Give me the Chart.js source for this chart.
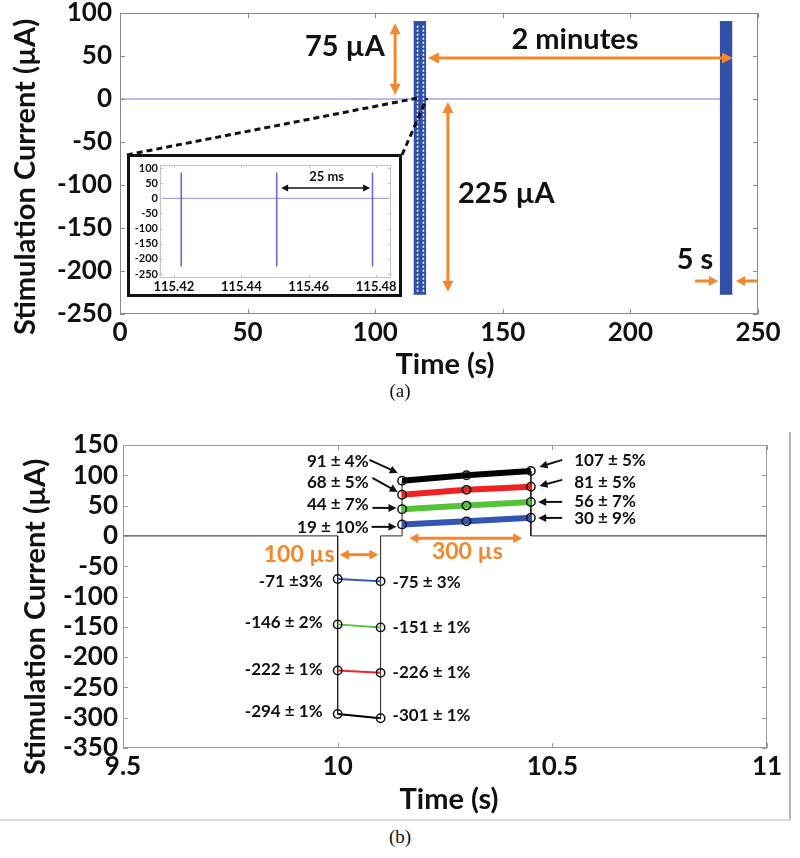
<!DOCTYPE html>
<html><head><meta charset="utf-8">
<script src="https://cdn.jsdelivr.net/npm/chart.js@4.4.1/dist/chart.umd.min.js"></script>
<style>
html,body{margin:0;padding:0;background:#fff;}
body{width:800px;height:858px;position:relative;overflow:hidden;}
.abs{position:absolute;}
.cap{position:absolute;left:0;width:800px;text-align:center;font-family:'Liberation Serif','DejaVu Serif',serif;font-size:19px;color:#111;line-height:20px;}
</style></head><body>
<canvas id="chartA" class="abs" width="800" height="405" style="left:0;top:-20px"></canvas>
<div class="abs" style="left:127px;top:154px;width:269px;height:137px;border:3px solid #111;background:#fff;">
  <canvas id="chartInset" width="269" height="137"></canvas>
</div>
<div class="cap" style="top:381px">(a)</div>
<div class="abs" style="left:789px;top:432px;width:2px;height:389px;background:#b8b8b8"></div>
<div class="abs" style="left:0;top:819px;width:791px;height:2px;background:#d8d8d8"></div>
<canvas id="chartB" class="abs" width="800" height="400" style="left:0;top:425px"></canvas>
<div class="cap" style="top:827px">(b)</div>
<script>
// ---------- Panel (a): 5 s bursts every 2 minutes ----------
const burstStarts = [115, 235];          // s
const burstEnds = [120, 240];            // s
const burstPeak = 90;                    // µA
const burstTrough = -227;                // µA
const baselineTimes = [0, 240];          // s
// ---------- Inset: individual pulses ----------
const insetPulseTimes = [115.4222, 115.4505, 115.4789]; // s
const insetPulsePeak = 85;
const insetPulseTrough = -225;
const insetTimeRange = [115.4159, 115.4844];
const insetCurrentRange = [-263, 110];
// ---------- Panel (b): four amplitude settings ----------
const negPhaseTimes = [10.0, 10.1];
const posPhaseTimes = [10.15, 10.3, 10.45];
const negBlue = [-71, -75], negGreen = [-146, -151], negRed = [-222, -226], negBlack = [-294, -301];
const posBlue = [19, 24, 30], posGreen = [44, 50, 56], posRed = [68, 76, 81], posBlack = [91, 100, 107];
const negStartLabels = ['-71 ±3%', '-146 ± 2%', '-222 ± 1%', '-294 ± 1%'];
const negEndLabels = ['-75 ± 3%', '-151 ± 1%', '-226 ± 1%', '-301 ± 1%'];
const posStartLabels = ['19 ± 10%', '44 ± 7%', '68 ± 5%', '91 ± 4%'];
const posEndLabels = ['30 ± 9%', '56 ± 7%', '81 ± 5%', '107 ± 5%'];
const timeRangeB = [9.5, 11];

const ORANGE = '#f4862b';
const BLUE_A = '#3151a9';
const LAV = '#a4a4e4';
const COLS = {blue:'#3356b5', green:'#55c23a', red:'#ee2222', black:'#000000'};

function arrow(ctx, x1, y1, x2, y2, o) {
  const hl = o.hl, hw = o.hw, ang = Math.atan2(y2 - y1, x2 - x1);
  ctx.strokeStyle = o.color; ctx.fillStyle = o.color; ctx.lineWidth = o.width; ctx.setLineDash([]);
  let sx = x1, sy = y1, ex = x2, ey = y2;
  if (o.start) { sx += Math.cos(ang) * hl * 0.8; sy += Math.sin(ang) * hl * 0.8; }
  if (o.end) { ex -= Math.cos(ang) * hl * 0.8; ey -= Math.sin(ang) * hl * 0.8; }
  ctx.beginPath(); ctx.moveTo(sx, sy); ctx.lineTo(ex, ey); ctx.stroke();
  const head = (px, py, a) => {
    ctx.beginPath(); ctx.moveTo(px, py);
    ctx.lineTo(px - hl * Math.cos(a) + hw * Math.sin(a), py - hl * Math.sin(a) - hw * Math.cos(a));
    ctx.lineTo(px - hl * Math.cos(a) - hw * Math.sin(a), py - hl * Math.sin(a) + hw * Math.cos(a));
    ctx.closePath(); ctx.fill();
  };
  if (o.end) head(x2, y2, ang);
  if (o.start) head(x1, y1, ang + Math.PI);
}

function makeDeco(spec) {
  return {
    id: 'deco',
    afterDatasetsDraw(chart) {
      const ctx = chart.ctx, a = chart.chartArea, xs = chart.scales.x, ys = chart.scales.y;
      const X = v => xs.getPixelForValue(v), Y = v => ys.getPixelForValue(v);
      ctx.save();
      (spec.lines || []).forEach(l => {
        ctx.beginPath(); ctx.setLineDash(l.dash || []); ctx.strokeStyle = l.color; ctx.lineWidth = l.width;
        ctx.moveTo(X(l.x1), Y(l.y1)); ctx.lineTo(X(l.x2), Y(l.y2)); ctx.stroke();
      });
      ctx.setLineDash([]);
      ctx.strokeStyle = spec.boxColor; ctx.lineWidth = 1;
      ctx.strokeRect(Math.round(a.left) + 0.5, Math.round(a.top) + 0.5, Math.round(a.width) - 1, Math.round(a.height) - 1);
      const tl = spec.tickLen;
      ctx.beginPath();
      xs.ticks.forEach(t => { const p = Math.round(X(t.value)) + 0.5; ctx.moveTo(p, a.bottom); ctx.lineTo(p, a.bottom - tl); ctx.moveTo(p, a.top); ctx.lineTo(p, a.top + tl); });
      ys.ticks.forEach(t => { const p = Math.round(Y(t.value)) + 0.5; ctx.moveTo(a.left, p); ctx.lineTo(a.left + tl, p); ctx.moveTo(a.right, p); ctx.lineTo(a.right - tl, p); });
      ctx.stroke();
      (spec.arrows || []).forEach(r => arrow(ctx, X(r.x1), Y(r.y1), X(r.x2), Y(r.y2), r));
      (spec.texts || []).forEach(t => {
        ctx.font = t.font; ctx.fillStyle = t.color || '#111'; ctx.textAlign = t.align || 'center'; ctx.textBaseline = 'middle';
        ctx.fillText(t.text, X(t.x), Y(t.y));
      });
      (spec.titles || []).forEach(t => {
        ctx.save(); ctx.translate(t.px, t.py); ctx.rotate(t.rot || 0);
        ctx.font = t.font; ctx.fillStyle = '#111'; ctx.textAlign = 'center'; ctx.textBaseline = 'middle';
        ctx.fillText(t.text, 0, 0); ctx.restore();
      });
      ctx.restore();
    }
  };
}

const tickFont = {family: 'Lato', weight: 'bold', size: 26, lineHeight: 1};
const common = {responsive: false, animation: false, devicePixelRatio: 1,
  plugins: {legend: {display: false}, tooltip: {enabled: false}}};

// ================= Chart A =================
const dsA = [];
dsA.push({data: baselineTimes.map(t => ({x: t, y: 0})), borderColor: LAV, borderWidth: 1.5, pointRadius: 0, order: 5});
burstStarts.forEach((s, i) => {
  const e = burstEnds[i];
  dsA.push({data: [{x: s, y: burstPeak}, {x: e, y: burstPeak}], borderColor: BLUE_A, backgroundColor: BLUE_A, borderWidth: 1, pointRadius: 0, fill: '+1', order: 1});
  dsA.push({data: [{x: s, y: burstTrough}, {x: e, y: burstTrough}], borderColor: BLUE_A, borderWidth: 1, pointRadius: 0, fill: false, order: 1});
});
const specA = {
  boxColor: '#8a8a8a', tickLen: 5,
  lines: [
    {x1: 116.6, y1: burstTrough + 3, x2: 116.6, y2: burstPeak - 3, color: '#fff', width: 1.5, dash: [2, 2]},
    {x1: 118.9, y1: burstTrough + 3, x2: 118.9, y2: burstPeak - 3, color: '#fff', width: 1.5, dash: [2, 2]},
    {x1: 2.7, y1: -65, x2: 116.4, y2: 1, color: '#111', width: 3, dash: [6, 4]},
    {x1: 110.5, y1: -65, x2: 120.3, y2: 1, color: '#111', width: 3, dash: [6, 4]}
  ],
  arrows: [
    {x1: 107.8, y1: 88, x2: 107.8, y2: 5, color: ORANGE, width: 3, hl: 11, hw: 5.5, start: true, end: true},
    {x1: 120.7, y1: 47.7, x2: 240.2, y2: 47.7, color: ORANGE, width: 3, hl: 11, hw: 5.5, start: true, end: true},
    {x1: 128.5, y1: -3.5, x2: 128.5, y2: -224, color: ORANGE, width: 3, hl: 11, hw: 5.5, start: true, end: true},
    {x1: 225.3, y1: -211.6, x2: 234.3, y2: -211.6, color: ORANGE, width: 3, hl: 9, hw: 5, end: true},
    {x1: 250, y1: -211.6, x2: 241.4, y2: -211.6, color: ORANGE, width: 3, hl: 9, hw: 5, end: true}
  ],
  texts: [
    {text: '75 µA', x: 103.8, y: 60.5, align: 'right', font: 'bold 29px Lato'},
    {text: '2 minutes', x: 178.3, y: 68.6, font: 'bold 29px Lato'},
    {text: '225 µA', x: 132.4, y: -110.5, align: 'left', font: 'bold 29px Lato'},
    {text: '5 s', x: 225.3, y: -187, font: 'bold 29px Lato'}
  ],
  titles: [
    {text: 'Stimulation Current (µA)', px: 26, py: 197, rot: -Math.PI / 2, font: 'bold 29px Lato'},
    {text: 'Time (s)', px: 445, py: 385, font: 'bold 29px Lato'}
  ]
};
new Chart(document.getElementById('chartA'), {
  type: 'line',
  data: {datasets: dsA},
  options: Object.assign({}, common, {
    layout: {padding: {left: 0, right: 42, top: 33, bottom: 0}},
    scales: {
      x: {type: 'linear', min: 0, max: 250, grid: {display: false, drawTicks: false}, border: {display: false},
          ticks: {stepSize: 50, font: tickFont, color: '#111', padding: 6, maxRotation: 0},
          afterFit: s => { s.height = 71; }},
      y: {type: 'linear', min: -250, max: 100, grid: {display: false, drawTicks: false}, border: {display: false},
          ticks: {stepSize: 50, font: tickFont, color: '#111', padding: 8},
          afterFit: s => { s.width = 120; }}
    }
  }),
  plugins: [makeDeco(specA)]
});

// ================= Inset =================
const pulseData = [];
insetPulseTimes.forEach(t => {
  pulseData.push({x: t, y: insetPulseTrough}, {x: t, y: insetPulsePeak}, {x: t, y: null});
});
const specI = {
  boxColor: '#c4c4c4', tickLen: 3,
  arrows: [{x1: 115.4518, y1: 34, x2: 115.4782, y2: 34, color: '#111', width: 1.5, hl: 7, hw: 3.5, start: true, end: true}],
  texts: [{text: '25 ms', x: 115.4653, y: 70, font: 'bold 13px Lato'}]
};
new Chart(document.getElementById('chartInset'), {
  type: 'line',
  data: {datasets: [
    {data: insetTimeRange.map(t => ({x: t, y: 0})), borderColor: LAV, borderWidth: 1.2, pointRadius: 0, order: 5},
    {data: pulseData, borderColor: '#6a6ad2', borderWidth: 1.6, pointRadius: 0, spanGaps: false, order: 1}
  ]},
  options: Object.assign({}, common, {
    layout: {padding: {left: 0, right: 6, top: 8, bottom: 0}},
    scales: {
      x: {type: 'linear', min: insetTimeRange[0], max: insetTimeRange[1], grid: {display: false, drawTicks: false}, border: {display: false},
          ticks: {stepSize: 0.02, includeBounds: false, font: {family: 'Lato', weight: 'bold', size: 13, lineHeight: 1}, color: '#111', padding: 2, maxRotation: 0, autoSkip: false,
                  callback: v => Number(v).toFixed(2)},
          afterFit: s => { s.height = 16; }},
      y: {type: 'linear', min: insetCurrentRange[0], max: insetCurrentRange[1], grid: {display: false, drawTicks: false}, border: {display: false},
          ticks: {stepSize: 50, includeBounds: false, font: {family: 'Lato', weight: 'bold', size: 11, lineHeight: 1}, color: '#111', padding: 2, autoSkip: false},
          afterFit: s => { s.width = 30; }}
    }
  }),
  plugins: [makeDeco(specI)]
});

// ================= Chart B =================
const dsB = [];
// thin outline waveform built from the largest (black) setting
dsB.push({data: [
  {x: timeRangeB[0], y: 0}, {x: negPhaseTimes[0], y: 0},
  {x: negPhaseTimes[0], y: negBlack[0]}, {x: negPhaseTimes[1], y: negBlack[1]},
  {x: negPhaseTimes[1], y: 0}, {x: posPhaseTimes[0], y: 0},
  {x: posPhaseTimes[0], y: posBlack[0]}, {x: posPhaseTimes[2], y: posBlack[2]},
  {x: posPhaseTimes[2], y: 0}, {x: timeRangeB[1], y: 0}
], borderColor: '#222', borderWidth: 1, pointRadius: 0, order: 9});
const setsB = [
  {neg: negBlue, pos: posBlue, c: COLS.blue},
  {neg: negGreen, pos: posGreen, c: COLS.green},
  {neg: negRed, pos: posRed, c: COLS.red},
  {neg: negBlack, pos: posBlack, c: COLS.black}
];
setsB.forEach(s => {
  dsB.push({data: negPhaseTimes.map((t, i) => ({x: t, y: s.neg[i]})), borderColor: s.c, borderWidth: 2,
            pointRadius: 4.2, pointBorderWidth: 1.5, pointBorderColor: '#111', pointBackgroundColor: 'rgba(255,255,255,0)', order: 2});
  dsB.push({data: posPhaseTimes.map((t, i) => ({x: t, y: s.pos[i]})), borderColor: s.c, borderWidth: 6,
            pointRadius: 4.2, pointBorderWidth: 1.5, pointBorderColor: '#111', pointBackgroundColor: 'rgba(255,255,255,0)', order: 1});
});
const LF = 'bold 17px Lato';
const posStartY = [13.2, 51.2, 87.5, 122];
const posEndY = [28, 56.1, 87.5, 123.8];
const negStartY = [-75.9, -143.6, -221, -290.4];
const negEndY = [-77.6, -151.8, -226, -297];
const textsB = [];
posStartLabels.forEach((l, i) => textsB.push({text: l, x: 10.072, y: posStartY[i], align: 'right', font: LF}));
posEndLabels.forEach((l, i) => textsB.push({text: l, x: 10.551, y: posEndY[i], align: 'left', font: LF}));
negStartLabels.forEach((l, i) => textsB.push({text: l, x: 9.965, y: negStartY[i], align: 'right', font: LF}));
negEndLabels.forEach((l, i) => textsB.push({text: l, x: 10.128, y: negEndY[i], align: 'left', font: LF}));
textsB.push({text: '100 µs', x: 9.993, y: -31, align: 'right', font: 'bold 23px Lato', color: ORANGE});
textsB.push({text: '300 µs', x: 10.302, y: -26, font: 'bold 23px Lato', color: ORANGE});
const BA = {color: '#111', width: 2, hl: 8, hw: 4, end: true};
const specB = {
  boxColor: '#9a9a9a', tickLen: 5,
  arrows: [
    Object.assign({x1: 10.079, y1: 14.9, x2: 10.137, y2: 14.9}, BA),
    Object.assign({x1: 10.081, y1: 46.2, x2: 10.137, y2: 46.2}, BA),
    Object.assign({x1: 10.081, y1: 95.7, x2: 10.140, y2: 72.6}, BA),
    Object.assign({x1: 10.074, y1: 125.4, x2: 10.140, y2: 104}, BA),
    Object.assign({x1: 10.523, y1: 29.7, x2: 10.467, y2: 29.7}, BA),
    Object.assign({x1: 10.523, y1: 56.1, x2: 10.467, y2: 56.1}, BA),
    Object.assign({x1: 10.523, y1: 92.4, x2: 10.470, y2: 82.5}, BA),
    Object.assign({x1: 10.523, y1: 125.4, x2: 10.470, y2: 113.9}, BA),
    {x1: 10.005, y1: -31, x2: 10.095, y2: -31, color: ORANGE, width: 3, hl: 9, hw: 5, start: true, end: true},
    {x1: 10.167, y1: -4, x2: 10.43, y2: -4, color: ORANGE, width: 3, hl: 9, hw: 5, start: true, end: true}
  ],
  texts: textsB,
  titles: [
    {text: 'Stimulation Current (µA)', px: 36, py: 192, rot: -Math.PI / 2, font: 'bold 29px Lato'},
    {text: 'Time (s)', px: 449, py: 375, font: 'bold 29px Lato'}
  ]
};
new Chart(document.getElementById('chartB'), {
  type: 'line',
  data: {datasets: dsB},
  options: Object.assign({}, common, {
    layout: {padding: {left: 0, right: 33, top: 20, bottom: 0}},
    scales: {
      x: {type: 'linear', min: timeRangeB[0], max: timeRangeB[1], grid: {display: false, drawTicks: false}, border: {display: false},
          ticks: {stepSize: 0.5, font: tickFont, color: '#111', padding: 6, maxRotation: 0,
                  callback: v => String(Number(Number(v).toFixed(1)))},
          afterFit: s => { s.height = 77; }},
      y: {type: 'linear', min: -350, max: 150, grid: {display: false, drawTicks: false}, border: {display: false},
          ticks: {stepSize: 50, font: tickFont, color: '#111', padding: 5},
          afterFit: s => { s.width = 123; }}
    }
  }),
  plugins: [makeDeco(specB)]
});
</script>
</body></html>
